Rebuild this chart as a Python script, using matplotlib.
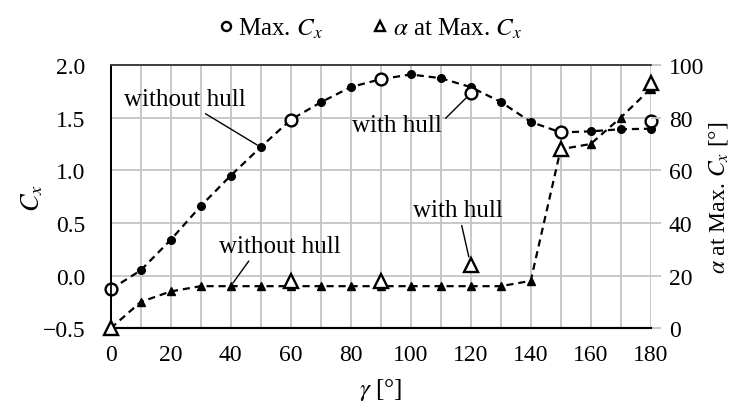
import numpy as np
import matplotlib as mpl
mpl.use('Agg')
import matplotlib.pyplot as plt
from matplotlib.lines import Line2D

plt.rcParams['font.family'] = ['Liberation Serif', 'DejaVu Serif']
plt.rcParams['mathtext.fontset'] = 'stix'

# wind angle gamma [deg]
gamma = np.arange(0, 190, 10)

# max. Cx and the angle of attack where it occurs, without hull
cx_nohull = [-0.13, 0.05, 0.34, 0.66, 0.95, 1.22, 1.48, 1.645, 1.79, 1.865,
             1.91, 1.875, 1.79, 1.65, 1.46, 1.36, 1.37, 1.39, 1.395]
alpha_nohull = [0, 10, 14, 16, 16, 16, 16, 16, 16, 16,
                16, 16, 16, 16, 18, 68, 70, 80, 91]

# with hull, only a few angles
gamma_hull = [0, 60, 90, 120, 150, 180]
cx_hull = [-0.13, 1.48, 1.865, 1.73, 1.36, 1.47]
alpha_hull = [0, 18, 18, 24, 68, 93]

fig = plt.figure(figsize=(7.4, 4.14), dpi=100)
ax = fig.add_axes([0.1496, 0.2046, 0.7297, 0.636])
ax2 = ax.twinx()

gridc = '#c4c4c4'
ax.set_xlim(0, 180)
ax.set_ylim(-0.5, 2.0)
ax.set_xticks(np.arange(0, 190, 20))
ax.set_xticks(np.arange(0, 190, 10), minor=True)
ax.set_yticks(np.arange(-0.5, 2.01, 0.5))
ax.grid(True, which='both', axis='x', color=gridc, lw=1.3)
ax.grid(True, axis='y', color=gridc, lw=1.3)
ax.set_axisbelow(True)
ax.tick_params(axis='x', which='both', length=0, labelsize=17, pad=11)
ax.tick_params(axis='y', length=0, labelsize=17, pad=18)
ax.yaxis.set_major_formatter(mpl.ticker.FuncFormatter(lambda v, p: f'{v:.1f}'.replace('-', '\u2212')))

ax2.set_ylim(0, 100)
ax2.set_yticks(np.arange(0, 101, 20))
ax2.tick_params(axis='y', length=7, width=1.3, color=gridc, labelsize=17, pad=6)

for a in (ax, ax2):
    a.spines['right'].set_visible(False)
    a.spines['left'].set_color('black')
    a.spines['left'].set_linewidth(1.3)
    a.spines['bottom'].set_linewidth(1.5)
    a.spines['top'].set_color('#404040')
    a.spines['top'].set_linewidth(1.3)

dash = (0, (3.2, 2.2))
# Cx curves
ax.plot(gamma, cx_nohull, color='black', lw=1.6, ls=dash, marker='o', ms=5.5, zorder=3, clip_on=False)
ax.plot(gamma_hull, cx_hull, ls='none', marker='o', ms=8.5, mfc='white', mec='black', mew=1.7,
        zorder=4, clip_on=False)
# angle of attack curves
ax2.plot(gamma, alpha_nohull, color='black', lw=1.6, ls=dash, marker='^', ms=6, zorder=3, clip_on=False)
ax2.plot(gamma_hull, alpha_hull, ls='none', marker='^', ms=10, mfc='white', mec='black', mew=1.7,
         zorder=4, clip_on=False)

ax.set_ylabel('$C_x$', fontsize=19)
ax.yaxis.set_label_coords(-0.122, 0.5)
ax.set_xlabel('$\\gamma$ [°]', fontsize=18, labelpad=8)
ax2.set_ylabel('$\\alpha$ at Max. $C_x$ [°]', fontsize=17)
ax2.yaxis.set_label_coords(1.105, 0.5)

ap = dict(arrowstyle='-', color='black', lw=1.0, shrinkA=1, shrinkB=3)
ax.annotate('without hull', xy=(gamma[5], cx_nohull[5]), xytext=(24.8, 1.675),
            ha='center', va='center', fontsize=18,
            arrowprops=dict(ap, relpos=(0.62, 0.0)))
ax.annotate('with hull', xy=(gamma_hull[3], cx_hull[3]), xytext=(95.4, 1.427),
            ha='center', va='center', fontsize=18,
            arrowprops=dict(ap, relpos=(1.0, 0.65), shrinkB=5))
ax2.annotate('without hull', xy=(gamma[4], alpha_nohull[4]), xytext=(56.3, 31.2),
             ha='center', va='center', fontsize=18,
             arrowprops=dict(ap, relpos=(0.27, 0.0)))
ax2.annotate('with hull', xy=(gamma_hull[3], alpha_hull[3]), xytext=(115.8, 44.8),
             ha='center', va='center', fontsize=18,
             arrowprops=dict(ap, relpos=(0.53, 0.0), shrinkB=6))

handles = [Line2D([], [], ls='none', marker='o', ms=6.5, mfc='white', mec='black', mew=1.7),
           Line2D([], [], ls='none', marker='^', ms=7, mfc='white', mec='black', mew=1.7)]
fig.legend(handles, ['Max. $C_x$', '$\\alpha$ at Max. $C_x$'], loc='upper center',
           bbox_to_anchor=(0.5, 1.015), ncol=2, frameon=False, fontsize=18,
           handlelength=0.6, handletextpad=0.2, columnspacing=2.0)

fig.savefig('out.png', dpi=100)
